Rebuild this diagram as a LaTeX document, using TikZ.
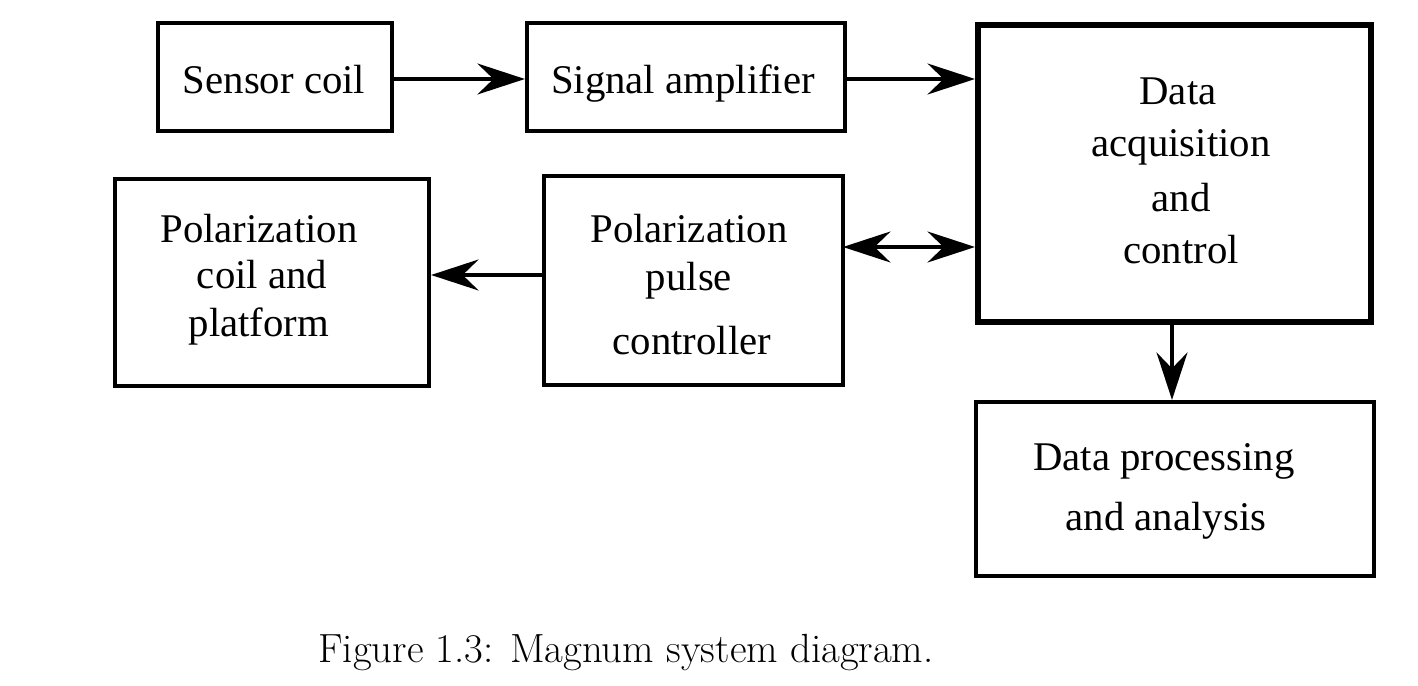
\documentclass[tikz,border=0pt]{standalone}
\usepackage{fontspec}
\newfontfamily\boxfont{Liberation Serif}
\usetikzlibrary{arrows.meta}
\begin{document}
\begin{tikzpicture}[x=0.02cm,y=-0.02cm,
  lbl/.style={anchor=base,inner sep=0pt,font=\boxfont\fontsize{23.2}{28}\selectfont},
  conn/.style={line width=2pt,-{Stealth[length=0.95cm,width=0.62cm,inset=0.32cm]}},
  biconn/.style={line width=2pt,{Stealth[length=0.95cm,width=0.62cm,inset=0.32cm]}-{Stealth[length=0.95cm,width=0.62cm,inset=0.32cm]}}]
\useasboundingbox (0,0) rectangle (1418,686);
% boxes
\node[draw,line width=2.4pt,inner sep=0pt,minimum width=234*0.02cm,minimum height=108*0.02cm] (sc) at (275,77) {};
\node[draw,line width=2.4pt,inner sep=0pt,minimum width=318*0.02cm,minimum height=108*0.02cm] (sa) at (686,77) {};
\node[draw,line width=3.4pt,inner sep=0pt,minimum width=393*0.02cm,minimum height=297*0.02cm] (daq) at (1174.5,173.5) {};
\node[draw,line width=2.4pt,inner sep=0pt,minimum width=314*0.02cm,minimum height=207*0.02cm] (pc) at (272,282.5) {};
\node[draw,line width=2.4pt,inner sep=0pt,minimum width=299*0.02cm,minimum height=209*0.02cm] (pp) at (693.5,280.5) {};
\node[draw,line width=2.4pt,inner sep=0pt,minimum width=398*0.02cm,minimum height=174*0.02cm] (dp) at (1175,489) {};
% labels
\node[lbl] (t1) at (274,94) {Sensor coil};
\node[lbl] (t2) at (683,94) {Signal amplifier};
\node[lbl] (t3) at (1178,105) {Data};
\node[lbl] (t4) at (1181,157) {acquisition};
\node[lbl] (t5) at (1181,212) {and};
\node[lbl] (t6) at (1181,263) {control};
\node[lbl] (t7) at (259,242) {Polarization};
\node[lbl] (t8) at (262,288) {coil and};
\node[lbl] (t9) at (259,337) {platform};
\node[lbl] (t10) at (689,242) {Polarization};
\node[lbl] (t11) at (689,291) {pulse};
\node[lbl] (t12) at (692,355) {controller};
\node[lbl] (t13) at (1164,470) {Data processing};
\node[lbl] (t14) at (1166,530) {and analysis};
\node[anchor=base,inner sep=0pt,font=\fontsize{23.2}{28}\selectfont] (cap) at (626,662) {Figure 1.3: Magnum system diagram.};
% connectors
\coordinate (a1) at (392,79);
\draw[conn] (a1) -- (a1 -| sa.west);
\coordinate (a2) at (845,79);
\draw[conn] (a2) -- (a2 -| daq.west);
\coordinate (bi) at (843,247);
\draw[biconn] (bi) -- (bi -| daq.west);
\coordinate (pl) at (544,275);
\draw[conn] (pl) -- (pl -| pc.east);
\coordinate (dn) at (1172,322);
\draw[conn] (dn) -- (dn |- dp.north);
\end{tikzpicture}
\end{document}
